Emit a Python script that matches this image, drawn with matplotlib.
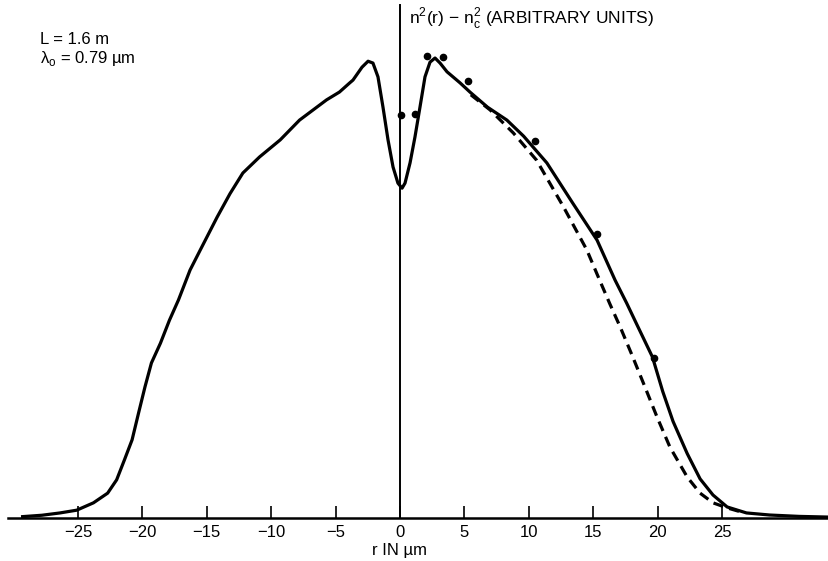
import matplotlib.pyplot as plt

plt.rcParams['font.family'] = ['Liberation Sans', 'DejaVu Sans']
plt.rcParams['mathtext.fontset'] = 'custom'
plt.rcParams['mathtext.rm'] = 'Liberation Sans'

# measured profile (solid), r in um, index in arbitrary units
r_meas = [-29.3, -27.8, -26.4, -25.1, -23.8, -22.7, -22.0, -21.4, -20.8, -20.3, -19.8,
          -19.3, -18.6, -17.9, -17.2, -16.3, -15.5, -14.2, -13.2, -12.2, -10.9, -9.3,
          -7.8, -5.7, -4.7, -3.9, -3.65, -2.95, -2.48, -2.1, -1.71, -1.32, -0.93, -0.54,
          -0.16, 0.16, 0.39, 0.78, 1.16, 1.55, 1.94, 2.33, 2.72, 3.11, 3.65, 4.66, 5.43,
          6.8, 8.3, 9.6, 11.4, 13.4, 15.3, 16.7, 17.6, 18.4, 19.6, 20.4, 21.2, 22.3,
          23.3, 24.3, 25.4, 26.9, 28.7, 31.0, 33.3]
n_meas = [0.3, 0.6, 1.1, 1.7, 3.3, 5.4, 8.3, 12.6, 17.0, 22.8, 28.5,
          33.7, 38.0, 43.0, 47.4, 53.9, 58.3, 65.4, 70.5, 75.0, 78.5, 82.2,
          86.5, 90.9, 92.6, 94.6, 95.2, 98.0, 99.3, 98.9, 95.9, 89.3, 82.2, 76.3,
          72.8, 71.7, 72.8, 77.2, 82.8, 89.3, 95.9, 99.1, 100.0, 98.9, 97.0, 94.6, 92.6,
          89.3, 86.5, 83.0, 77.2, 68.5, 60.4, 51.7, 46.7, 42.0, 35.0, 27.5, 21.0, 14.0,
          8.5, 5.0, 2.4, 1.1, 0.65, 0.35, 0.2]

# calculated profile (dashed)
r_calc = [5.5, 7.0, 8.8, 10.6, 12.7, 14.5, 15.5, 16.3, 17.1, 18.0, 18.9, 19.95,
          20.96, 22.3, 23.3, 24.3, 25.4, 26.5]
n_calc = [92.0, 88.7, 83.7, 77.8, 67.6, 58.3, 51.7, 46.5, 41.5, 35.5, 29.3, 22.0,
          15.4, 8.9, 5.4, 3.3, 2.2, 1.3]

# data points
r_pts = [0.08, 1.16, 2.1, 3.3, 5.3, 10.5, 15.3, 19.7]
n_pts = [87.6, 87.8, 100.4, 100.2, 95.0, 82.0, 61.7, 34.8]

x_ticks = [-25, -20, -15, -10, -5, 0, 5, 10, 15, 20, 25]

fig = plt.figure(figsize=(8.29, 5.61), dpi=100)
ax = fig.add_axes([0, 43 / 561, 1, 518 / 561])
ax.set_xlim(-400 / 12.88, 429 / 12.88)
ax.set_ylim(0, 518 / 4.6)

ax.plot(r_meas, n_meas, color='black', lw=2.3, solid_joinstyle='round')
ax.plot(r_calc, n_calc, color='black', lw=2.3, linestyle=(0, (3.2, 2.0)))
ax.plot(r_pts, n_pts, 'o', color='black', ms=4.5)

# axes drawn like the original figure
for s in ['top', 'right', 'left']:
    ax.spines[s].set_visible(False)
ax.spines['bottom'].set_bounds(-30.4, 33.3)
ax.spines['bottom'].set_linewidth(1.8)
ax.axvline(0, ymin=0, ymax=513 / 518, color='black', lw=1.4)
ax.set_yticks([])
ax.set_xticks(x_ticks)
ax.set_xticklabels([f'\u2212{abs(t)}' if t < 0 else str(t) for t in x_ticks], fontsize=12)
ax.tick_params(axis='x', direction='in', length=9, width=1.2, pad=5)

fig.text(400 / 829, 1 - 550 / 561, 'r IN \u00b5m', ha='center', va='center', fontsize=12)
fig.text(40 / 829, 1 - 40 / 561, 'L = 1.6 m', ha='left', va='center', fontsize=12)
fig.text(40 / 829, 1 - 58 / 561, '\u03bb$_\\mathrm{o}$ = 0.79 \u00b5m', ha='left', va='center',
         fontsize=12)
fig.text(409 / 829, 1 - 18 / 561, 'n$^\\mathrm{2}$(r) \u2212 n$_\\mathrm{c}^\\mathrm{2}$ (ARBITRARY UNITS)',
         ha='left', va='center', fontsize=12.5)

fig.savefig('out.png', dpi=100)
